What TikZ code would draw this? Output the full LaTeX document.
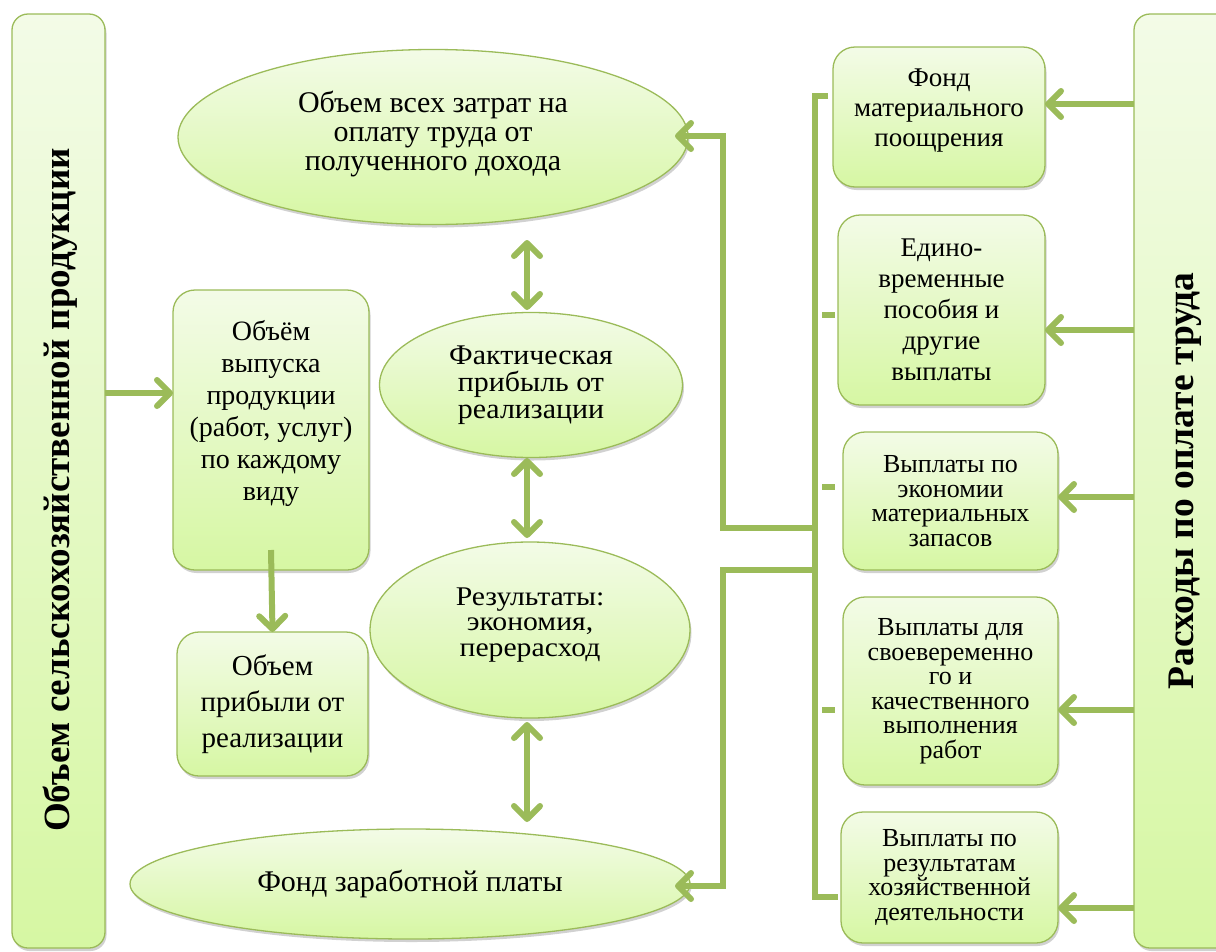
\documentclass[tikz,border=0pt]{standalone}
\usepackage{fontspec}
\setmainfont{Liberation Serif}
\usetikzlibrary{shapes.geometric,arrows.meta,shadows,calc}
\definecolor{gline}{RGB}{155,187,89}
\definecolor{ftop}{RGB}{243,251,231}
\definecolor{fbot}{RGB}{214,247,163}
\newcommand\fsz[2]{\fontsize{#1pt}{#2pt}\selectfont}
\tikzset{
  shd/.style={drop shadow={shadow xshift=1.5pt,shadow yshift=-3pt,fill=black,opacity=0.18}},
  box/.style={draw=gline,line width=1.3pt,rounded corners=22pt,top color=ftop,bottom color=fbot,
    align=center,inner sep=0pt,outer sep=0pt,shd},
  bigbox/.style={box,rounded corners=16pt},
  ell/.style={ellipse,draw=gline,line width=1.3pt,top color=ftop,bottom color=fbot,
    align=center,inner sep=0pt,outer sep=0pt,shd},
  conn/.style={draw=gline,line width=6pt},
  tip/.tip={Straight Barb[length=13pt,width=26pt,round]},
  arr/.style={conn,-tip},
  darr/.style={conn,tip-tip},
}
\begin{document}
\begin{tikzpicture}[x=1pt,y=-1pt]
\useasboundingbox (0,0) rectangle (1216,951);
% big side boxes
\node[bigbox,minimum width=93,minimum height=934] (L) at (58.5,481) {};
\node[rotate=90,font=\fsz{37}{40}\bfseries] (Lt) at ([xshift=2pt,yshift=-9pt]L.center) {Объем сельскохозяйственной продукции};
\node[bigbox,minimum width=102,minimum height=934] (R) at (1185,481) {};
\node[rotate=90,font=\fsz{37.5}{40}\bfseries] (Rt) at (R.center) {Расходы по оплате труда};
% ellipses
\node[ell,minimum width=510,minimum height=175,font=\fsz{30}{29}] (e1) at (433,137)
  {Объем всех затрат на\\оплату труда от\\полученного дохода\\[-17pt]};
\node[ell,minimum width=303,minimum height=145,font={\addfontfeature{FakeStretch=1.05}\fsz{28.5}{27}}] (e2) at (531,385)
  {Фактическая\\прибыль от\\реализации};
\node[ell,minimum width=320,minimum height=176,font={\addfontfeature{FakeStretch=1.1}\fsz{27}{25.5}}] (e3) at (530,630)
  {Результаты:\\экономия,\\перерасход\\[-9pt]};
\node[ell,minimum width=560,minimum height=110,font=\fsz{30}{29}] (e4) at (410,884)
  {Фонд заработной платы};
% left boxes
\node[box,minimum width=196,minimum height=280,font=\fsz{28}{32}] (p1) at (271,430)
  {Объём\\выпуска\\продукции\\(работ, услуг)\\по каждому\\виду\\[8pt]};
\node[box,minimum width=191,minimum height=144,font=\fsz{29}{36}] (p2) at (272.5,704)
  {Объем\\прибыли от\\реализации};
% right boxes
\node[box,minimum width=212,minimum height=140,font=\fsz{27}{30}] (b1) at (939,117)
  {Фонд\\материального\\поощрения\\[-12pt]};
\node[box,minimum width=207,minimum height=190,font=\fsz{27}{31}] (b2) at (941.5,310)
  {Едино-\\временные\\пособия и\\другие\\выплаты};
\node[box,minimum width=215,minimum height=138,font=\fsz{26}{24.5}] (b3) at (950.5,501)
  {Выплаты по\\экономии\\материальных\\запасов};
\node[box,minimum width=215,minimum height=188,font=\fsz{26}{24.5}] (b4) at (950.5,691)
  {Выплаты для\\своевеременно\\го и\\качественного\\выполнения\\работ};
\node[box,minimum width=217,minimum height=131,font=\fsz{26}{24.5}] (b5) at (949.5,877.5)
  {Выплаты по\\результатам\\хозяйственной\\деятельности};
% arrows from left
\draw[arr] (L.east |- 0,393) -- (p1.west |- 0,393);
\draw[arr] ([yshift=20pt]p1.south) -- (p2.north);
% double arrows
\coordinate (d1a) at (527,240); \coordinate (d1b) at (527,310);
\coordinate (d2a) at (527,458); \coordinate (d2b) at (527,538);
\coordinate (d3a) at (527,722); \coordinate (d3b) at (527,822);
\draw[darr] (d1a) -- (d1b);
\draw[darr] (d2a) -- (d2b);
\draw[darr] (d3a) -- (d3b);
% arrows from right
\draw[arr] (R.west |- 0,104) -- (b1.east |- 0,104);
\draw[arr] (R.west |- 0,330) -- (b2.east |- 0,330);
\draw[arr] (R.west |- 0,497) -- (b3.east |- 0,497);
\draw[arr] (R.west |- 0,710) -- (b4.east |- 0,710);
\draw[arr] (R.west |- 0,908) -- (b5.east |- 0,908);
% bracket
\coordinate (jt) at (815,96);
\coordinate (jb) at (815,897);
\coordinate (ja) at (815,528);
\coordinate (jc) at (815,570);
\draw[conn] ([xshift=-5pt]b1.west |- jt) -- (jt) -- (jb) -- ([xshift=-3pt]b5.west |- jb);
\draw[conn] (822,315) -- (835,315);
\draw[conn] (822,487) -- (835,487);
\draw[conn] (822,710) -- (835,710);
\draw[arr] (ja) -- (723,528) -- (723,136) -- ([xshift=-13pt]e1.east |- 0,136);
\draw[arr] (jc) -- (723,570) -- (723,886) -- ([xshift=-15pt]e4.east |- 0,886);
\end{tikzpicture}
\end{document}
